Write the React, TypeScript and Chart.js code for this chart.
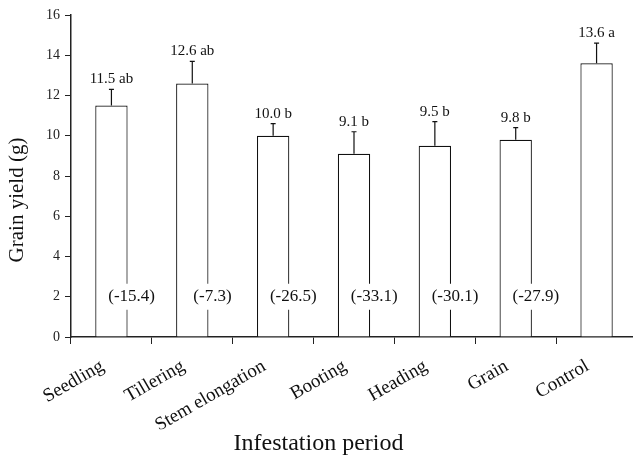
import React, { useEffect, useRef } from "react";
import { Chart, registerables } from "chart.js";

Chart.register(...registerables);

const categories = ["Seedling", "Tillering", "Stem elongation", "Booting", "Heading", "Grain", "Control"];
const yields = [11.5, 12.6, 10.0, 9.1, 9.5, 9.8, 13.6];
const errors = [0.8, 1.1, 0.6, 1.1, 1.2, 0.6, 1.0];
const letters = ["ab", "ab", "b", "b", "b", "b", "a"];
const reductions: (number | null)[] = [-15.4, -7.3, -26.5, -33.1, -30.1, -27.9, null];
const reductionLabelY = 2;
const yTicksMin = 0;
const yTicksMax = 16;
const yTickStep = 2;
const yTitle = "Grain yield (g)";
const xTitle = "Infestation period";

const FONT = '"Liberation Serif", "Times New Roman", serif';

const annotatePlugin = {
  id: "annotate",
  afterDatasetsDraw(chart: any) {
    const ctx = chart.ctx;
    const meta = chart.getDatasetMeta(0);
    const y = chart.scales.y;
    ctx.save();
    meta.data.forEach((bar: any, i: number) => {
      const x = bar.x;
      const top = y.getPixelForValue(yields[i]);
      const errTop = y.getPixelForValue(yields[i] + errors[i]);
      ctx.strokeStyle = "#111";
      ctx.lineWidth = 1.2;
      ctx.beginPath();
      ctx.moveTo(x, top);
      ctx.lineTo(x, errTop);
      ctx.moveTo(x - 2.5, errTop);
      ctx.lineTo(x + 2.5, errTop);
      ctx.stroke();
      ctx.fillStyle = "#111";
      ctx.font = `15px ${FONT}`;
      ctx.textAlign = "center";
      ctx.textBaseline = "alphabetic";
      ctx.fillText(`${yields[i].toFixed(1)} ${letters[i]}`, x, errTop - 6);
      const r = reductions[i];
      if (r !== null) {
        const rx = x + bar.width / 2 + 4;
        const ry = y.getPixelForValue(reductionLabelY);
        const txt = `(${r.toFixed(1)})`;
        ctx.font = `17px ${FONT}`;
        const w = ctx.measureText(txt).width;
        ctx.fillStyle = "#fff";
        ctx.fillRect(rx - w / 2 - 2, ry - 13, w + 4, 26);
        ctx.fillStyle = "#111";
        ctx.textBaseline = "middle";
        ctx.fillText(txt, rx, ry);
      }
    });
    ctx.save();
    ctx.translate(17.5, 200);
    ctx.rotate(-Math.PI / 2);
    ctx.font = `21px ${FONT}`;
    ctx.fillStyle = "#111";
    ctx.textAlign = "center";
    ctx.textBaseline = "middle";
    ctx.fillText(yTitle, 0, 0);
    ctx.restore();
    ctx.restore();
  },
};

export default function App() {
  const ref = useRef<HTMLCanvasElement>(null);
  useEffect(() => {
    if (!ref.current) return;
    const titleSize = 24;
    const titlePadBottom = 3;
    const chart = new Chart(ref.current, {
      type: "bar",
      data: {
        labels: categories,
        datasets: [
          {
            data: yields,
            backgroundColor: "#fff",
            borderColor: "#111",
            borderWidth: 1.2,
            categoryPercentage: 1,
            barPercentage: 0.4,
          },
        ],
      },
      options: {
        animation: false,
        responsive: false,
        layout: { padding: { top: 15, right: 3, left: 0, bottom: 0 } },
        plugins: {
          legend: { display: false },
          tooltip: { enabled: false },
          title: {
            display: true,
            position: "bottom",
            text: xTitle,
            color: "#111",
            font: { family: FONT, size: titleSize, weight: "normal", lineHeight: 1.2 },
            padding: { top: 0, bottom: titlePadBottom },
          },
        },
        scales: {
          x: {
            afterFit(scale: any) {
              scale.height = 461 - 337 - (titleSize * 1.2 + titlePadBottom);
            },
            grid: {
              drawOnChartArea: false,
              offset: true,
              tickLength: 7,
              color: "#222",
              lineWidth: 1,
            },
            border: { color: "#222", width: 1.5 },
            ticks: {
              maxRotation: 30,
              minRotation: 30,
              color: "#111",
              padding: 11,
              labelOffset: -9,
              font: { family: FONT, size: 19 },
            },
          },
          y: {
            min: yTicksMin,
            max: yTicksMax,
            afterFit(scale: any) {
              scale.width = 71;
            },
            grid: {
              drawOnChartArea: false,
              tickLength: 6,
              color: "#222",
              lineWidth: 1,
            },
            border: { color: "#222", width: 1.5 },
            ticks: {
              stepSize: yTickStep,
              color: "#222",
              padding: 5,
              font: { family: FONT, size: 14 },
            },
          },
        },
      },
      plugins: [annotatePlugin],
    });
    return () => chart.destroy();
  }, []);
  return (
    <div style={{ position: "fixed", left: 0, top: 0, width: 633, height: 461, overflow: "hidden", background: "#fff" }}>
      <canvas ref={ref} width={640} height={461} />
    </div>
  );
}
